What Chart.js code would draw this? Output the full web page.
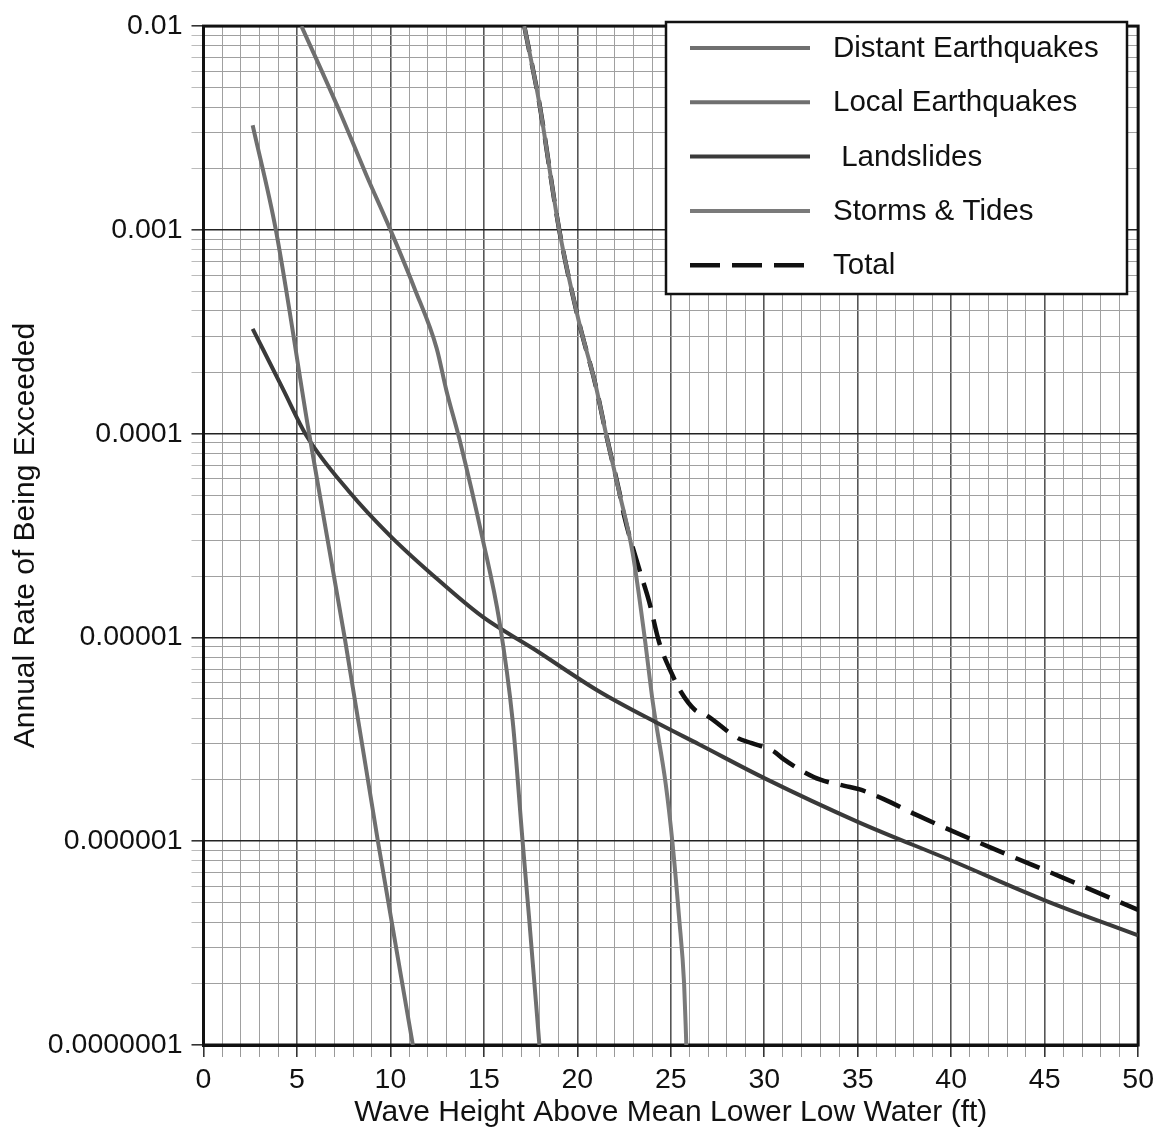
<!DOCTYPE html>
<html>
<head>
<meta charset="utf-8">
<script src="https://cdn.jsdelivr.net/npm/chart.js@4/dist/chart.umd.min.js"></script>
<style>
  html, body { margin: 0; padding: 0; background: #fff; }
  #wrap { width: 1160px; height: 1134px; }
</style>
</head>
<body>
<div id="wrap"><canvas id="c" width="1160" height="1134"></canvas></div>
<script>
// ---------------- DATA ----------------
const seriesLabels = ['Distant Earthquakes', 'Local Earthquakes', ' Landslides', 'Storms & Tides', 'Total'];

const distantX = [5.24, 7.29, 8.71, 10.0, 11.3, 12.47, 13.0, 13.7, 14.94, 15.83, 16.54, 17.07, 17.43, 17.97];
const distantY = [1e-2, 3.8e-3, 1.86e-3, 1e-3, 5.13e-4, 2.63e-4, 1.62e-4, 9.33e-5, 3.02e-5, 1.2e-5, 3.89e-6, 1e-6, 4.08e-7, 1e-7];

const localX = [2.63, 3.87, 5.65, 7.55, 9.33, 11.2];
const localY = [3.26e-3, 1e-3, 1e-4, 1e-5, 1e-6, 1e-7];

const landslideX = [2.63, 4.26, 5.51, 7.82, 9.96, 12.27, 14.94, 17.61, 21.17, 24.28, 26.5, 30, 35, 40, 45, 50];
const landslideY = [3.27e-4, 1.65e-4, 9.77e-5, 5.16e-5, 3.17e-5, 2.02e-5, 1.26e-5, 8.85e-6, 5.43e-6, 3.8e-6, 2.99e-6, 2.04e-6, 1.245e-6, 8.04e-7, 5.13e-7, 3.45e-7];

const stormX = [17.16, 17.97, 19.03, 20.1, 20.99, 21.53, 22.24, 22.95, 23.6, 24.03, 24.73, 25.08, 25.44, 25.71, 25.83];
const stormY = [1e-2, 4.16e-3, 1e-3, 3.49e-4, 1.71e-4, 1e-4, 5.16e-5, 2.62e-5, 1e-5, 4.85e-6, 1.9e-6, 1e-6, 4.24e-7, 2.0e-7, 1e-7];

const totalX = [17.16, 17.97, 19.03, 20.1, 20.99, 21.53, 22.24, 22.5, 23.3, 23.84, 24.37, 25.08, 25.53, 26.28, 26.85, 28.57, 29.33, 30.48, 31.05, 32.19, 32.96, 34.29, 35.06, 36.39, 38.11, 42.12, 45.93, 50];
const totalY = [1e-2, 4.16e-3, 1e-3, 3.49e-4, 1.71e-4, 1e-4, 5.2e-5, 3.97e-5, 2.18e-5, 1.5e-5, 9.5e-6, 6.56e-6, 5.43e-6, 4.42e-6, 4.18e-6, 3.21e-6, 3.03e-6, 2.77e-6, 2.52e-6, 2.17e-6, 2.01e-6, 1.87e-6, 1.8e-6, 1.61e-6, 1.35e-6, 9.3e-7, 6.65e-7, 4.6e-7];

const xTickLabels = ['0', '5', '10', '15', '20', '25', '30', '35', '40', '45', '50'];
const yDecades = [1e-7, 1e-6, 1e-5, 1e-4, 1e-3, 1e-2];
const yTickLabels = ['0.0000001', '0.000001', '0.00001', '0.0001', '0.001', '0.01'];
const xTitle = 'Wave Height Above Mean Lower Low Water (ft)';
const yTitle = 'Annual Rate of Being Exceeded';

// ---------------- BUILD ----------------
const pts = (xs, ys) => xs.map((x, i) => ({ x: x, y: ys[i] }));
const FONT = '"Liberation Sans", Arial, Helvetica, sans-serif';
const GRAY = '#6f6f6f';

const datasets = [
  { label: seriesLabels[0], data: pts(distantX, distantY), borderColor: GRAY, borderWidth: 4 },
  { label: seriesLabels[1], data: pts(localX, localY), borderColor: GRAY, borderWidth: 4 },
  { label: seriesLabels[2], data: pts(landslideX, landslideY), borderColor: '#3a3a3a', borderWidth: 4 },
  { label: seriesLabels[3], data: pts(stormX, stormY), borderColor: '#7a7a7a', borderWidth: 4 },
  { label: seriesLabels[4], data: pts(totalX, totalY), borderColor: '#111', borderWidth: 4.5, borderDash: [26, 12] }
].map(d => Object.assign({ pointRadius: 0, fill: false, cubicInterpolationMode: 'monotone', borderCapStyle: 'butt' }, d));

const isDecade = v => Math.abs(Math.log10(v) - Math.round(Math.log10(v))) < 1e-6;

const framePlugin = {
  id: 'frame',
  beforeDatasetsDraw(chart) {
    const { ctx, chartArea: a } = chart;
    ctx.save();
    ctx.strokeStyle = '#111';
    ctx.lineWidth = 3;
    ctx.strokeRect(a.left, a.top, a.right - a.left, a.bottom - a.top);
    ctx.restore();
  }
};

const legendPlugin = {
  id: 'boxLegend',
  afterDatasetsDraw(chart) {
    const ctx = chart.ctx;
    const box = { l: 666, t: 22, r: 1127, b: 294 };
    ctx.save();
    ctx.fillStyle = '#fff';
    ctx.fillRect(box.l, box.t, box.r - box.l, box.b - box.t);
    ctx.strokeStyle = '#111';
    ctx.lineWidth = 2.5;
    ctx.strokeRect(box.l, box.t, box.r - box.l, box.b - box.t);
    ctx.font = '29.5px ' + FONT;
    ctx.textBaseline = 'middle';
    ctx.textAlign = 'left';
    chart.data.datasets.forEach((ds, i) => {
      const y = 48 + i * 54.3;
      ctx.beginPath();
      ctx.strokeStyle = ds.borderColor;
      ctx.lineWidth = ds.borderWidth;
      ctx.setLineDash(ds.borderDash ? [30, 12] : []);
      ctx.moveTo(690, y);
      ctx.lineTo(810, y);
      ctx.stroke();
      ctx.setLineDash([]);
      ctx.fillStyle = '#111';
      ctx.fillText(ds.label, 833, y + 1);
    });
    ctx.restore();
  }
};

new Chart(document.getElementById('c'), {
  type: 'line',
  data: { datasets: datasets },
  plugins: [framePlugin, legendPlugin],
  options: {
    responsive: false,
    devicePixelRatio: 1,
    animation: false,
    layout: { padding: { left: 0, top: 22, right: 20, bottom: 0 } },
    plugins: { legend: { display: false }, tooltip: { enabled: false } },
    scales: {
      x: {
        type: 'linear',
        min: 0, max: 50,
        afterFit(s) { s.height = 89; },
        afterBuildTicks(s) {
          const t = [];
          for (let v = 0; v <= 50; v++) t.push({ value: v });
          s.ticks = t;
        },
        ticks: {
          autoSkip: false, maxRotation: 0,
          font: { family: FONT, size: 28.5 }, color: '#111', padding: 6,
          callback: v => (v % 5 === 0 ? xTickLabels[v / 5] : '')
        },
        grid: {
          color: c => (c.tick && c.tick.value % 5 === 0 ? '#555' : '#a0a0a0'),
          lineWidth: c => (c.tick && c.tick.value % 5 === 0 ? 1.6 : 1),
          tickLength: 12,
          tickColor: c => (c.tick && c.tick.value % 5 === 0 ? '#333' : '#999')
        },
        border: { display: true, color: '#111', width: 3 },
        title: { display: true, text: xTitle, font: { family: FONT, size: 30 }, color: '#111', padding: { top: 0, bottom: 3 } }
      },
      y: {
        type: 'logarithmic',
        min: 1e-7, max: 1e-2,
        afterFit(s) { s.width = 203.5; },
        afterBuildTicks(s) {
          const t = [];
          yDecades.forEach((d, i) => {
            if (i === yDecades.length - 1) { t.push({ value: d }); return; }
            for (let m = 1; m <= 9; m++) t.push({ value: d * m });
          });
          s.ticks = t;
        },
        ticks: {
          autoSkip: false,
          font: { family: FONT, size: 28.5 }, color: '#111', padding: 9,
          callback: v => {
            if (!isDecade(v)) return '';
            const i = yDecades.findIndex(d => Math.abs(Math.log10(d) - Math.log10(v)) < 1e-6);
            return i >= 0 ? yTickLabels[i] : '';
          }
        },
        grid: {
          color: c => (c.tick && isDecade(c.tick.value) ? '#222' : '#a0a0a0'),
          lineWidth: c => (c.tick && isDecade(c.tick.value) ? 1.6 : 1),
          tickLength: 12,
          tickColor: c => (c.tick && isDecade(c.tick.value) ? '#333' : '#bbb')
        },
        border: { display: true, color: '#111', width: 3 },
        title: { display: true, text: yTitle, font: { family: FONT, size: 30 }, color: '#111', padding: { top: 8, bottom: 0 } }
      }
    }
  }
});
</script>
</body>
</html>
